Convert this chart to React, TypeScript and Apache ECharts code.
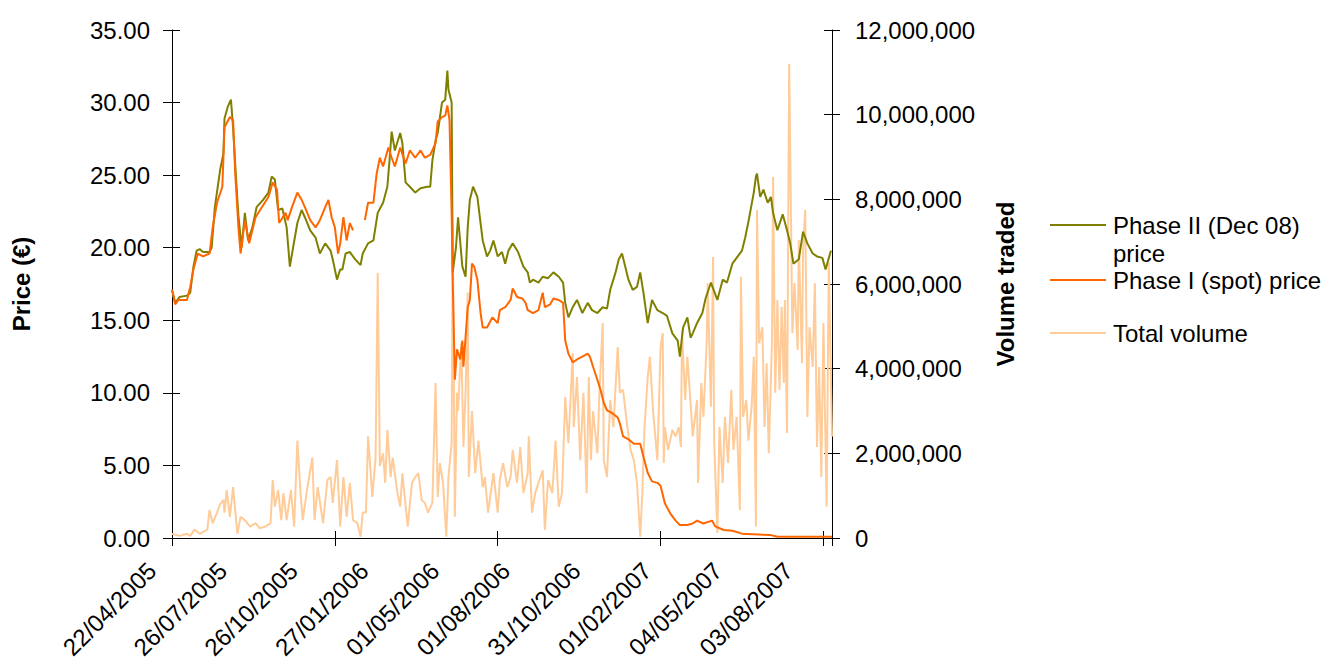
import React, { useEffect, useRef } from "react";
import * as echarts from "echarts";

// x values are trading-day indices counted from 22/04/2005
const tickLabels = [
  "22/04/2005", "26/07/2005", "26/10/2005", "27/01/2006", "01/05/2006",
  "01/08/2006", "31/10/2006", "01/02/2007", "04/05/2007", "03/08/2007",
];
const DAYS = 616;
const LABEL_STEP = 66;
const TICK_STEP = 152;

// Phase II (Dec 08) price, €
const phase2Price: [number, number][] = [
  [0,17.1],[3,16.2],[7,16.6],[14,16.7],[17,16.9],[20,18.7],[23,19.8],[26,19.9],[29,19.7],[35,19.7],[37,20.0],[40,22.8],[45,25.4],[48,26.5],[49,28.9],[52,29.7],[55,30.2],[57,28.3],[60,24.5],[62,22.2],[65,20.0],[68,22.4],[71,20.5],[75,21.4],[79,22.8],[85,23.3],[90,23.8],[93,24.9],[96,24.7],[99,22.6],[103,22.7],[107,21.4],[110,18.7],[113,20.0],[117,21.7],[121,22.6],[124,22.1],[129,21.2],[134,20.7],[138,19.6],[143,20.3],[148,19.8],[150,19.2],[154,17.8],[157,18.5],[159,18.5],[162,19.6],[166,19.7],[171,19.2],[176,18.8],[178,19.6],[183,20.3],[188,20.5],[192,22.4],[197,23.1],[201,24.2],[203,26.0],[205,28.0],[208,26.7],[213,27.9],[215,27.2],[218,24.5],[222,24.2],[227,23.8],[232,24.1],[238,24.2],[241,24.2],[243,26.0],[246,27.4],[248,27.9],[252,30.0],[255,30.2],[257,32.2],[258,30.9],[261,30.0],[262,18.3],[265,20.0],[267,22.1],[271,18.7],[274,18.0],[276,21.4],[278,23.3],[281,24.2],[285,23.5],[288,21.7],[290,20.5],[294,19.4],[297,19.8],[300,20.5],[304,19.4],[308,19.7],[311,18.9],[314,19.8],[318,20.3],[323,19.7],[328,18.7],[332,18.3],[334,17.6],[337,17.8],[342,17.6],[346,18.0],[351,17.9],[356,18.3],[361,18.0],[365,17.6],[367,16.2],[370,15.2],[374,15.9],[378,16.4],[383,15.5],[388,16.2],[392,15.7],[397,15.5],[402,15.9],[406,15.8],[409,17.1],[414,18.3],[417,19.2],[420,19.6],[423,18.7],[426,17.8],[430,17.1],[434,17.3],[437,18.3],[440,16.9],[444,14.8],[448,16.4],[453,15.7],[458,15.5],[462,15.3],[467,14.1],[472,13.6],[474,12.5],[477,14.5],[481,15.2],[484,13.8],[486,14.1],[490,14.8],[495,15.5],[498,16.5],[503,17.6],[509,16.4],[514,17.8],[518,17.6],[523,18.9],[528,19.4],[532,19.8],[535,20.7],[538,21.8],[543,23.8],[545,24.9],[546,25.1],[549,23.5],[552,24.0],[556,23.1],[559,23.5],[561,22.4],[565,21.2],[570,22.3],[574,21.2],[577,20.3],[580,18.9],[585,19.2],[589,21.1],[593,20.3],[598,19.6],[602,19.4],[607,19.3],[610,18.5],[615,19.8],
];

// Phase I (spot) price, € ("-" = no quote)
const phase1Price: [number, number | "-"][] = [
  [0,17.1],[3,16.1],[6,16.4],[14,16.4],[17,17.3],[20,18.5],[24,19.6],[29,19.4],[35,19.6],[38,21.4],[42,23.1],[47,24.2],[49,28.3],[54,29.0],[57,28.8],[59,25.1],[62,21.4],[64,19.6],[68,21.9],[72,20.3],[78,22.1],[84,22.8],[90,23.5],[94,24.5],[98,24.0],[100,21.7],[106,22.4],[108,21.9],[112,22.8],[117,23.8],[121,23.3],[124,22.8],[129,21.9],[134,21.4],[138,21.9],[143,22.8],[146,23.3],[149,22.1],[152,21.4],[155,19.6],[157,20.3],[160,22.1],[163,20.5],[166,21.7],[169,21.2],[174,"-"],[180,21.9],[183,23.1],[188,23.1],[191,25.1],[194,26.2],[197,25.6],[202,26.9],[205,26.2],[208,25.6],[213,26.9],[218,25.8],[222,26.7],[227,26.2],[232,26.7],[236,26.2],[241,26.4],[246,27.2],[248,28.7],[252,29.0],[255,29.1],[257,29.8],[259,28.8],[261,22.4],[262,17.8],[264,10.9],[266,13.0],[269,12.3],[271,13.6],[272,11.8],[276,15.9],[278,16.4],[280,18.9],[282,18.7],[285,17.8],[288,15.5],[290,14.5],[294,14.5],[299,15.2],[304,14.8],[306,15.7],[311,15.9],[316,16.4],[318,17.2],[322,16.6],[327,16.5],[330,16.2],[332,15.7],[337,15.5],[342,15.7],[346,16.9],[348,15.9],[353,16.1],[356,16.5],[361,16.4],[365,16.2],[367,13.6],[370,12.7],[374,12.1],[378,12.3],[383,12.5],[388,12.7],[390,12.5],[393,11.8],[397,10.9],[400,10.2],[403,9.3],[406,8.8],[411,8.6],[416,8.3],[418,7.9],[421,7.0],[426,6.8],[431,6.5],[437,6.5],[440,5.6],[444,4.5],[448,3.9],[453,3.8],[456,3.6],[460,2.4],[465,1.7],[470,1.2],[474,0.9],[481,0.9],[486,1.0],[490,1.2],[496,1.0],[504,1.2],[507,0.8],[515,0.55],[523,0.5],[532,0.3],[559,0.2],[565,0.08],[616,0.08],
];

// Total volume, millions of allowances
const totalVolume: [number, number][] = [
  [0,0.1],[7,0.05],[14,0.1],[17,0.05],[21,0.2],[26,0.1],[33,0.2],[35,0.66],[38,0.35],[42,0.6],[45,0.8],[48,0.9],[49,0.6],[51,1.13],[54,0.5],[57,1.2],[61,0.1],[64,0.5],[68,0.42],[73,0.27],[78,0.35],[82,0.23],[87,0.27],[92,0.35],[94,1.37],[96,0.74],[99,1.13],[102,0.42],[104,1.06],[107,0.42],[111,1.13],[114,0.27],[117,2.3],[120,1.06],[122,0.42],[126,1.13],[131,1.9],[133,0.42],[136,1.2],[141,0.35],[145,1.37],[148,1.44],[150,0.83],[154,1.84],[157,0.27],[160,1.44],[163,0.5],[166,1.3],[169,0.42],[173,0.35],[176,0.03],[178,0.6],[181,0.6],[183,2.4],[187,0.97],[190,1.9],[192,6.26],[194,1.7],[197,2.0],[199,1.3],[201,2.55],[204,1.44],[206,1.9],[210,1.13],[213,0.74],[215,1.53],[220,0.27],[224,1.3],[227,1.44],[230,1.53],[233,0.9],[236,0.83],[239,0.6],[243,0.83],[246,3.66],[248,0.97],[250,1.77],[253,1.3],[256,0.03],[258,1.44],[261,2.24],[262,7.44],[264,0.5],[266,3.43],[267,3.0],[270,4.6],[272,2.15],[274,3.43],[276,5.8],[277,1.44],[280,3.0],[283,1.53],[286,2.3],[290,1.2],[292,1.44],[295,0.6],[300,1.53],[304,0.6],[306,1.37],[309,1.77],[313,1.2],[316,1.44],[318,2.08],[322,1.3],[325,2.15],[328,1.06],[332,1.53],[333,2.4],[336,0.6],[339,1.06],[342,1.3],[346,1.6],[348,0.19],[351,1.37],[355,1.06],[358,2.3],[361,0.74],[364,1.06],[367,3.33],[370,2.24],[374,4.37],[375,2.62],[378,3.8],[381,1.84],[384,3.43],[387,1.06],[389,3.8],[391,1.84],[393,3.0],[397,2.0],[399,3.5],[402,5.08],[403,1.84],[406,1.44],[409,3.26],[412,2.62],[416,4.51],[418,3.43],[421,3.5],[425,2.62],[428,2.08],[431,1.84],[434,1.3],[437,0.03],[439,1.06],[441,2.62],[444,3.8],[446,4.28],[449,3.0],[453,1.84],[456,4.51],[458,4.84],[459,1.77],[460,2.62],[463,2.08],[467,2.55],[470,2.4],[473,2.62],[475,2.15],[476,4.9],[479,3.26],[481,4.28],[484,3.19],[486,2.4],[490,3.26],[491,1.3],[494,3.66],[496,2.86],[499,4.6],[500,6.02],[503,3.1],[505,6.64],[506,2.3],[509,0.12],[511,2.62],[514,1.3],[516,2.86],[519,1.77],[522,3.5],[524,2.08],[527,2.86],[530,0.66],[531,6.17],[533,2.86],[536,3.26],[538,2.3],[541,3.1],[543,4.28],[545,0.27],[546,7.75],[548,4.6],[551,4.98],[553,2.62],[555,4.13],[557,2.0],[560,4.68],[561,8.53],[563,3.43],[565,5.62],[567,3.5],[569,5.46],[571,3.66],[572,5.62],[574,2.48],[576,11.2],[579,4.84],[581,6.02],[584,4.44],[585,7.04],[588,4.13],[589,6.8],[591,7.75],[593,2.86],[595,4.98],[598,4.04],[600,6.02],[602,2.15],[604,4.04],[606,1.44],[608,5.08],[611,0.74],[613,6.5],[616,2.4],
];

const seriesNames = ["Phase II (Dec 08) price", "Phase I (spot) price", "Total volume"];
const seriesColors = ["#808000", "#FF6600", "#FFCC99"];

const FONT = "'Liberation Sans', Arial, sans-serif";
const BLACK = "#000";

function withCommas(n: number): string {
  return String(Math.round(n)).replace(/\B(?=(\d{3})+(?!\d))/g, ",");
}

export default function App() {
  const ref = useRef<HTMLDivElement>(null);

  useEffect(() => {
    if (!ref.current) return;
    const chart = echarts.init(ref.current, undefined, { renderer: "svg" });

    const gridBox = { top: 30, width: 660, height: 508 };
    const hiddenAxisCommon = {
      axisLine: { show: false, onZero: false },
      axisLabel: { show: false },
      splitLine: { show: false },
    };

    const option: any = {
      animation: false,
      backgroundColor: "#fff",
      textStyle: { fontFamily: FONT, color: BLACK },
      grid: [
        { left: 172, ...gridBox },
        { left: 152, ...gridBox },
      ],
      xAxis: [
        {
          type: "value", gridIndex: 0, position: "bottom", min: 0, max: DAYS, interval: TICK_STEP,
          axisLine: { show: true, onZero: false, lineStyle: { color: BLACK, width: 1 } },
          axisTick: { show: true, length: 8, lineStyle: { color: BLACK } },
          axisLabel: { show: false }, splitLine: { show: false },
        },
        {
          type: "value", gridIndex: 0, position: "bottom", min: 0, max: DAYS, interval: TICK_STEP,
          ...hiddenAxisCommon,
          axisTick: { show: true, inside: true, length: 7, lineStyle: { color: BLACK } },
        },
        {
          type: "value", gridIndex: 1, position: "bottom", min: 0, max: DAYS, interval: LABEL_STEP,
          axisLine: { show: false, onZero: false }, axisTick: { show: false }, splitLine: { show: false },
          axisLabel: {
            rotate: 45, margin: 31, fontSize: 24, color: BLACK, fontFamily: FONT,
            showMaxLabel: false,
            formatter: (v: number) => {
              const i = Math.round(v / LABEL_STEP);
              return Math.abs(v - i * LABEL_STEP) < 1e-6 && tickLabels[i] ? tickLabels[i] : "";
            },
          },
        },
      ],
      yAxis: [
        {
          type: "value", gridIndex: 0, position: "left", min: 0, max: 35, interval: 5,
          name: "Price (€)", nameLocation: "middle", nameGap: 139, nameRotate: 90,
          nameTextStyle: { fontSize: 24, fontWeight: "bold", color: BLACK, fontFamily: FONT },
          axisLine: { show: true, onZero: false, lineStyle: { color: BLACK, width: 1 } },
          axisTick: { show: true, length: 9, lineStyle: { color: BLACK } },
          axisLabel: { margin: 22, fontSize: 24, color: BLACK, fontFamily: FONT, formatter: (v: number) => v.toFixed(2) },
          splitLine: { show: false },
        },
        {
          type: "value", gridIndex: 0, position: "right", min: 0, max: 12, interval: 2,
          name: "Volume traded", nameLocation: "middle", nameGap: 161, nameRotate: 90,
          nameTextStyle: { fontSize: 24, fontWeight: "bold", color: BLACK, fontFamily: FONT },
          axisLine: { show: true, onZero: false, lineStyle: { color: BLACK, width: 1 } },
          axisTick: { show: true, length: 8, lineStyle: { color: BLACK } },
          axisLabel: { margin: 23, fontSize: 24, color: BLACK, fontFamily: FONT, formatter: (v: number) => withCommas(v * 1000000) },
          splitLine: { show: false },
        },
        {
          type: "value", gridIndex: 0, position: "left", min: 0, max: 35, interval: 5,
          ...hiddenAxisCommon,
          axisTick: { show: true, inside: true, length: 8, lineStyle: { color: BLACK } },
        },
        {
          type: "value", gridIndex: 0, position: "right", min: 0, max: 12, interval: 2,
          ...hiddenAxisCommon,
          axisTick: { show: true, inside: true, length: 8, lineStyle: { color: BLACK } },
        },
        { type: "value", gridIndex: 1, min: 0, max: 35, show: false },
      ],
      series: [
        {
          name: seriesNames[2], type: "line", xAxisIndex: 0, yAxisIndex: 1,
          data: totalVolume, showSymbol: false, symbol: "none",
          lineStyle: { color: seriesColors[2], width: 2 }, itemStyle: { color: seriesColors[2] },
        },
        {
          name: seriesNames[0], type: "line", xAxisIndex: 0, yAxisIndex: 0,
          data: phase2Price, showSymbol: false, symbol: "none",
          lineStyle: { color: seriesColors[0], width: 2 }, itemStyle: { color: seriesColors[0] },
        },
        {
          name: seriesNames[1], type: "line", xAxisIndex: 0, yAxisIndex: 0,
          data: phase1Price, showSymbol: false, symbol: "none", connectNulls: false,
          lineStyle: { color: seriesColors[1], width: 2 }, itemStyle: { color: seriesColors[1] },
        },
      ],
      graphic: [
        { type: "line", shape: { x1: 1050, y1: 225, x2: 1106, y2: 225 }, style: { stroke: seriesColors[0], lineWidth: 2 } },
        { type: "text", x: 1113, y: 211, style: { text: "Phase II (Dec 08)\nprice", fontSize: 24, fontFamily: FONT, fill: BLACK, lineHeight: 28, verticalAlign: "top" } },
        { type: "line", shape: { x1: 1050, y1: 280, x2: 1106, y2: 280 }, style: { stroke: seriesColors[1], lineWidth: 2 } },
        { type: "text", x: 1113, y: 266, style: { text: seriesNames[1], fontSize: 24, fontFamily: FONT, fill: BLACK, lineHeight: 28, verticalAlign: "top" } },
        { type: "line", shape: { x1: 1050, y1: 333, x2: 1106, y2: 333 }, style: { stroke: seriesColors[2], lineWidth: 2 } },
        { type: "text", x: 1113, y: 319, style: { text: seriesNames[2], fontSize: 24, fontFamily: FONT, fill: BLACK, lineHeight: 28, verticalAlign: "top" } },
      ],
    };

    chart.setOption(option);
    return () => chart.dispose();
  }, []);

  return (
    <div
      ref={ref}
      style={{ position: "fixed", left: 0, top: 0, width: 1344, height: 662, background: "#fff" }}
    />
  );
}
